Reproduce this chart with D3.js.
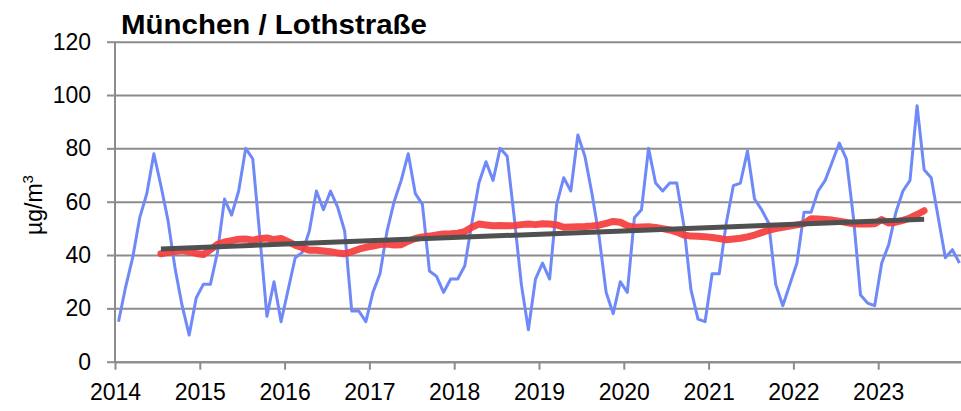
<!DOCTYPE html>
<html>
<head>
<meta charset="utf-8">
<script src="https://cdn.jsdelivr.net/npm/d3@7"></script>
<style>
  body { margin: 0; background: #fff; }
  svg { display: block; font-family: "Liberation Sans", Arial, sans-serif; }
</style>
</head>
<body>
<svg id="chart"></svg>
<script>
var years = [2014, 2015, 2016, 2017, 2018, 2019, 2020, 2021, 2022, 2023];
var yTicks = [0, 20, 40, 60, 80, 100, 120];

// monthly NO2, Jan 2014 - Dec 2023
var monthly = [
  15, 28, 39, 54, 63, 78, 66, 53, 35, 21, 10, 24,
  29, 29, 41, 61, 55, 64, 80, 76, 47, 17, 30, 15,
  27, 39, 41, 49, 64, 57, 64, 58, 49, 19, 19, 15,
  26, 33, 49, 60, 68, 78, 63, 59, 34, 32, 26, 31,
  31, 36, 52, 67, 75, 68, 80, 77, 54, 29, 12, 31,
  37, 31, 59, 69, 64, 85, 77, 63, 47, 26, 18, 30,
  26, 54, 57, 80, 67, 64, 67, 67, 51, 27, 16, 15,
  33, 33, 52, 66, 67, 79, 61, 57, 52, 29, 21, 29,
  37, 56, 56, 64, 68, 75, 82, 76, 54, 25, 22, 21,
  37, 44, 56, 64, 68, 96, 72, 69, 54, 39, 42, 37
];

// 12 month running mean, Jul 2014 - Jul 2023
var runningMean = [
  40.5, 41, 41.3, 41.7, 41.2, 40.6,
  40.2, 42, 44, 44.9, 45.4, 45.9, 46, 45.6, 46.1, 46.4, 45.8, 46.2,
  45, 43.7, 42.7, 41.8, 41.8, 41.5, 41.2, 40.8, 40.5, 41.2, 42.2, 42.9,
  43.4, 43.9, 44.1, 43.8, 43.9, 45.2, 46.2, 46.8, 47.1, 47.5, 47.9, 48,
  48.2, 48.8, 50.4, 51.6, 51.3, 51, 51.1, 51, 51.1, 51.4, 51.6, 51.4,
  51.7, 51.6, 51.3, 50.4, 50.5, 50.6, 50.7, 50.9, 51.2, 51.9, 52.6, 52.3,
  51, 50.4, 50.5, 50.6, 50.3, 49.9, 49.4, 48.6, 47.5, 47.1, 47, 46.9,
  46.6, 46.2, 45.7, 46, 46.3, 46.8, 47.5, 48.4, 49.3, 49.9, 50.4, 50.9,
  51.3, 51.8, 53.6, 53.5, 53.3, 53.1, 52.7, 52.2, 51.7, 51.6, 51.6, 51.7,
  53.3, 52, 52.3, 53, 53.9, 55.2, 56.6
];

// linear trend, end points Jul 2014 and Jul 2023
var trendEnds = [42.3, 53.4];

var width = 961, height = 411;
var svg = d3.select('#chart').attr('width', width).attr('height', height);

var x = d3.scaleLinear().domain([2014, 2024]).range([115, 963]);
var y = d3.scaleLinear().domain([0, 120]).range([361.7, 41.7]);

function monthPos(i) { return 2014 + (i + 0.5) / 12; }

var blueData = monthly.map(function(v, i) { return [monthPos(i), v]; });
var redData = runningMean.map(function(v, i) { return [monthPos(i + 6), v]; });
var trendData = [[monthPos(6), trendEnds[0]], [monthPos(114), trendEnds[1]]];

var line = d3.line()
  .x(function(d) { return x(d[0]); })
  .y(function(d) { return y(d[1]); });

// grid
var yAxis = d3.axisLeft(y).tickValues(yTicks).tickSize(-(width - 115)).tickSizeOuter(0).tickPadding(24);
var gy = svg.append('g').attr('transform', 'translate(115,0)').call(yAxis);
gy.select('.domain').remove();
gy.selectAll('.tick line').attr('stroke', '#8c8c8c').attr('stroke-width', 2);
gy.selectAll('.tick').append('line').attr('x1', -8).attr('x2', 0).attr('stroke', '#8c8c8c').attr('stroke-width', 2);
gy.selectAll('.tick text').attr('font-size', 23).attr('fill', '#000').attr('font-family', 'Liberation Sans, Arial, sans-serif');

// vertical axis line
svg.append('line').attr('x1', 115).attr('x2', 115).attr('y1', y(120)).attr('y2', y(0) + 1)
  .attr('stroke', '#8c8c8c').attr('stroke-width', 2);

var xAxis = d3.axisBottom(x).tickValues(years).tickFormat(d3.format('d')).tickSize(8).tickSizeOuter(0).tickPadding(14);
var gx = svg.append('g').attr('transform', 'translate(0,' + y(0) + ')').call(xAxis);
gx.select('.domain').attr('stroke', '#8c8c8c').attr('stroke-width', 2);
gx.selectAll('.tick line').attr('stroke', '#8c8c8c').attr('stroke-width', 2);
gx.selectAll('.tick text').attr('font-size', 23).attr('fill', '#000').attr('font-family', 'Liberation Sans, Arial, sans-serif');

// series
svg.append('path').datum(blueData).attr('d', line)
  .attr('fill', 'none').attr('stroke', '#6f8af8').attr('stroke-width', 3).attr('stroke-linejoin', 'round');
svg.append('path').datum(redData).attr('d', line)
  .attr('fill', 'none').attr('stroke', '#f53c3c').attr('stroke-opacity', 0.92).attr('stroke-width', 7)
  .attr('stroke-linejoin', 'round').attr('stroke-linecap', 'round');
svg.append('path').datum(trendData).attr('d', line)
  .attr('fill', 'none').attr('stroke', '#505050').attr('stroke-width', 5);

// title
svg.append('text').attr('x', 121).attr('y', 34).attr('font-size', 28).attr('font-weight', 'bold')
  .attr('textLength', 306).attr('lengthAdjust', 'spacingAndGlyphs')
  .text('München / Lothstraße');

// y label
var yl = svg.append('text').attr('transform', 'translate(42,205) rotate(-90)')
  .attr('text-anchor', 'middle').attr('font-size', 23);
yl.append('tspan').text('µg/m');
yl.append('tspan').attr('font-size', 15).attr('dy', -9).text('3');
</script>
</body>
</html>
